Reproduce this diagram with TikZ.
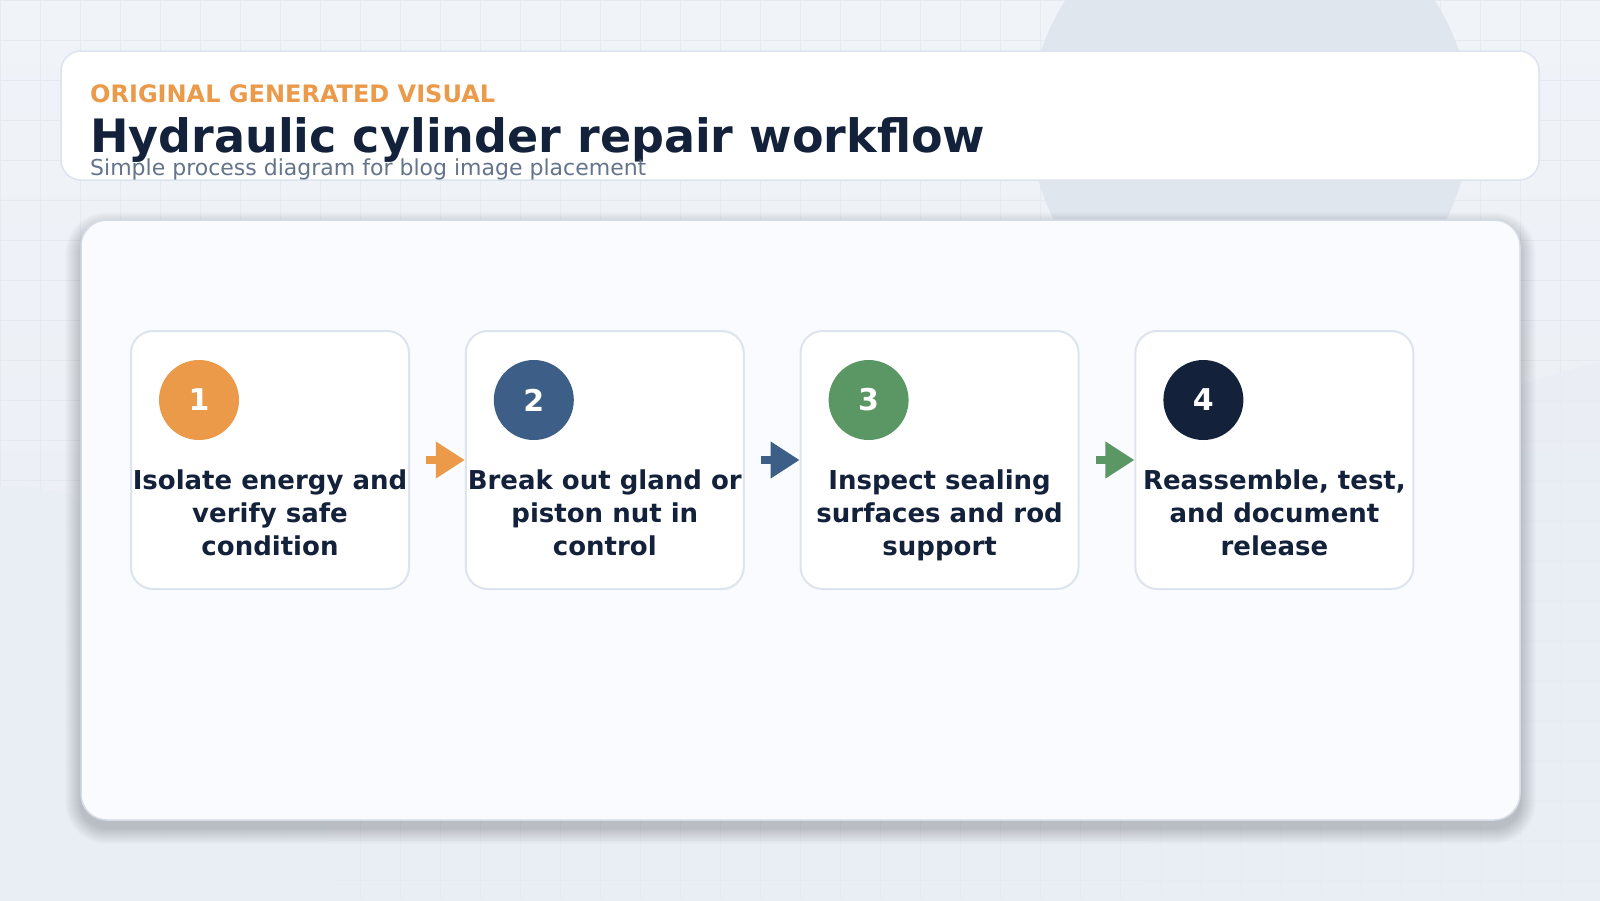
\documentclass[tikz,border=0pt]{standalone}
\usepackage{fontspec}
\setmainfont{DejaVu Sans}
\usetikzlibrary{positioning,calc,arrows.meta}

\definecolor{pagetop}{HTML}{F0F3F8}
\definecolor{pagebottom}{HTML}{E9EDF4}
\definecolor{gridcol}{HTML}{E5EAF0}
\definecolor{blobcol}{HTML}{DFE6EE}
\definecolor{panelfill}{HTML}{F9FBFE}
\definecolor{panelline}{HTML}{D5DCE6}
\definecolor{edgecol}{HTML}{DDE4ED}
\definecolor{ink}{HTML}{13223A}
\definecolor{muted}{HTML}{64748B}
\definecolor{stepA}{HTML}{EB9A4A}
\definecolor{stepB}{HTML}{3D5F87}
\definecolor{stepC}{HTML}{5A9764}
\definecolor{stepD}{HTML}{13223A}

\tikzset{
	card/.style={draw=edgecol, line width=2pt, fill=white, rounded corners=22pt, minimum width=278pt, minimum height=258pt, inner sep=0pt},
	badge/.style={circle, fill=#1, minimum size=80pt, inner sep=0pt, text=white, font=\fontsize{30}{36}\selectfont\bfseries},
	steptext/.style={align=center, text=ink, font=\fontsize{26}{32.7}\selectfont\bfseries, inner sep=0pt},
	flow/.style={draw=#1, line width=8pt, -{Triangle[length=29pt,width=35pt]}},
}

\begin{document}
\begin{tikzpicture}[x=1pt,y=-1pt]
	\useasboundingbox (0,0) rectangle (1600,900);
	\clip (0,0) rectangle (1600,900);
	% backdrop
	\shade[top color=pagetop, bottom color=pagebottom] (0,0) rectangle (1600,900);
	\foreach \gx in {0,40,...,1600}
		\draw[gridcol, line width=1pt] (\gx,0) -- (\gx,900);
	\foreach \gy in {0,40,...,880}
		\draw[gridcol, line width=1pt] (0,\gy) -- (1600,\gy);
	\fill[pagebottom, opacity=.9] (0,918) ellipse [x radius=336, y radius=432];
	\fill[pagebottom, opacity=.7] (1720,930) circle (580);
	\fill[blobcol] (1250,120) circle (220);

	% header
	\draw[edgecol, line width=1.5pt, fill=white, rounded corners=20pt] (61,51) rectangle (1539,180);
	\node[anchor=base west, inner sep=0pt, text=stepA, font=\fontsize{24}{28}\selectfont\bfseries] (kicker) at (90,102) {ORIGINAL GENERATED VISUAL};
	\node[anchor=base west, inner sep=0pt, text=ink, font=\fontsize{46}{54}\selectfont\bfseries] (title) at (90,152) {Hydraulic cylinder repair workflow};
	\node[anchor=base west, inner sep=0pt, text=muted, font=\fontsize{22}{26}\selectfont] (subtitle) at (90,175) {Simple process diagram for blog image placement};

	% panel
	\foreach \i [evaluate=\i as \s using 1.0*\i, evaluate=\i as \r using 26+1.0*\i] in {1,...,16}
		\fill[black, opacity=.011, rounded corners=\r pt] (81-\s,228-\s) rectangle (1520+\s,828+\s);
	\draw[panelline, line width=1.5pt, fill=panelfill, rounded corners=26pt] (81,220) rectangle (1520,820);

	% steps
	\node[card] (c1) at (270,460) {};
	\node[card, right=54.8pt of c1] (c2) {};
	\node[card, right=54.8pt of c2] (c3) {};
	\node[card, right=54.8pt of c3] (c4) {};

	\node[badge=stepA] (n1) at ($(c1.north west)+(69,70)$) {1};
	\node[badge=stepB] (n2) at ($(c2.north west)+(69,70)$) {2};
	\node[badge=stepC] (n3) at ($(c3.north west)+(69,70)$) {3};
	\node[badge=stepD] (n4) at ($(c4.north west)+(69,70)$) {4};

	\node[steptext, anchor=base] (t1) at ($(c1.north)+(0,225)$) {Isolate energy and\\verify safe\\condition};
	\node[steptext, anchor=base] (t2) at ($(c2.north)+(0,225)$) {Break out gland or\\piston nut in\\control};
	\node[steptext, anchor=base] (t3) at ($(c3.north)+(0,225)$) {Inspect sealing\\surfaces and rod\\support};
	\node[steptext, anchor=base] (t4) at ($(c4.north)+(0,225)$) {Reassemble, test,\\and document\\release};

	\draw[flow=stepA] ([xshift=16pt]c1.east) -- (c2.west);
	\draw[flow=stepB] ([xshift=16pt]c2.east) -- (c3.west);
	\draw[flow=stepC] ([xshift=16pt]c3.east) -- (c4.west);
\end{tikzpicture}
\end{document}
